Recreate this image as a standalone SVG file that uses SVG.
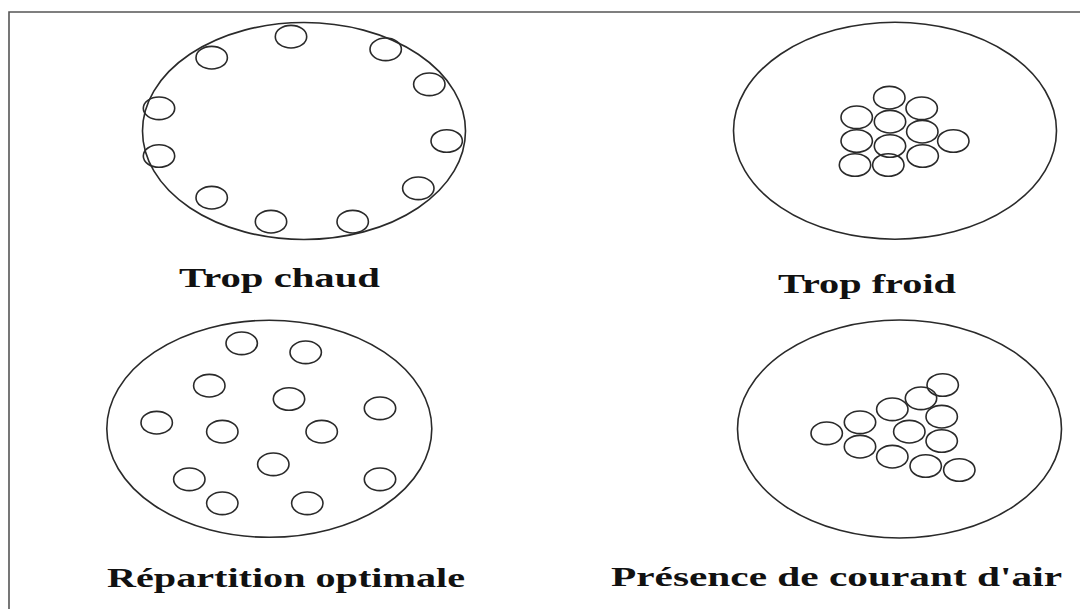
<svg xmlns="http://www.w3.org/2000/svg" width="1080" height="609" viewBox="0 0 1080 609">
<style>
.big{fill:none;stroke:#2a2a2a;stroke-width:1.6}
.s{fill:none;stroke:#2a2a2a;stroke-width:1.6}
.lbl{font-family:"Liberation Serif","Times New Roman",serif;font-weight:bold;font-size:27px;fill:#111}
.frame{fill:none;stroke:#555;stroke-width:1.6}
</style>
<defs>
<ellipse id="c" cx="0" cy="0" rx="15.7" ry="11.3" class="s"/>
</defs>
<rect width="1080" height="609" fill="#fff"/>
<path class="frame" d="M9,609 V12 H1080"/>

<g id="trop-chaud">
<ellipse class="big" cx="304" cy="131" rx="161.5" ry="108.5"/>
<use href="#c" x="291" y="36.7"/>
<use href="#c" x="211.7" y="57.7"/>
<use href="#c" x="385.7" y="49.3"/>
<use href="#c" x="429.3" y="84.3"/>
<use href="#c" x="159" y="108.3"/>
<use href="#c" x="446.7" y="141"/>
<use href="#c" x="159" y="156"/>
<use href="#c" x="418.3" y="188.3"/>
<use href="#c" x="211.7" y="197.7"/>
<use href="#c" x="271" y="221.7"/>
<use href="#c" x="352.7" y="221.7"/>
<text class="lbl" x="179" y="286.5" textLength="201" lengthAdjust="spacingAndGlyphs">Trop chaud</text>
</g>

<g id="trop-froid">
<ellipse class="big" cx="895" cy="130.7" rx="161.5" ry="108.5"/>
<use href="#c" x="889.3" y="97.7"/>
<use href="#c" x="921.7" y="108.3"/>
<use href="#c" x="856.7" y="117.3"/>
<use href="#c" x="890" y="121.7"/>
<use href="#c" x="922.3" y="131.7"/>
<use href="#c" x="953.3" y="141"/>
<use href="#c" x="856.7" y="141"/>
<use href="#c" x="890" y="146"/>
<use href="#c" x="922.7" y="156"/>
<use href="#c" x="855" y="165"/>
<use href="#c" x="888.3" y="165"/>
<text class="lbl" x="778" y="293" textLength="178" lengthAdjust="spacingAndGlyphs">Trop froid</text>
</g>

<g id="repartition-optimale">
<ellipse class="big" cx="269.3" cy="428.8" rx="162.5" ry="108.5"/>
<use href="#c" x="241.7" y="343.3"/>
<use href="#c" x="305.7" y="352.3"/>
<use href="#c" x="209.3" y="385.7"/>
<use href="#c" x="289" y="399"/>
<use href="#c" x="380" y="408.3"/>
<use href="#c" x="156.7" y="422.7"/>
<use href="#c" x="222.3" y="431.7"/>
<use href="#c" x="321.7" y="431.7"/>
<use href="#c" x="273.3" y="464.3"/>
<use href="#c" x="189.3" y="479.3"/>
<use href="#c" x="380" y="479.3"/>
<use href="#c" x="222.3" y="503.3"/>
<use href="#c" x="307.3" y="503.3"/>
<text class="lbl" x="107" y="587" textLength="358" lengthAdjust="spacingAndGlyphs">Répartition optimale</text>
</g>

<g id="courant-air">
<ellipse class="big" cx="899.5" cy="429" rx="162" ry="109"/>
<use href="#c" x="942.7" y="385"/>
<use href="#c" x="921" y="398.3"/>
<use href="#c" x="892.3" y="409.3"/>
<use href="#c" x="860" y="422.3"/>
<use href="#c" x="941.7" y="416.7"/>
<use href="#c" x="826.7" y="433.3"/>
<use href="#c" x="909.3" y="431.7"/>
<use href="#c" x="941.7" y="441"/>
<use href="#c" x="860" y="446.7"/>
<use href="#c" x="892.3" y="456.7"/>
<use href="#c" x="925.7" y="466"/>
<use href="#c" x="959.3" y="470"/>
<text class="lbl" x="611" y="586" textLength="451" lengthAdjust="spacingAndGlyphs">Présence de courant d'air</text>
</g>
</svg>
